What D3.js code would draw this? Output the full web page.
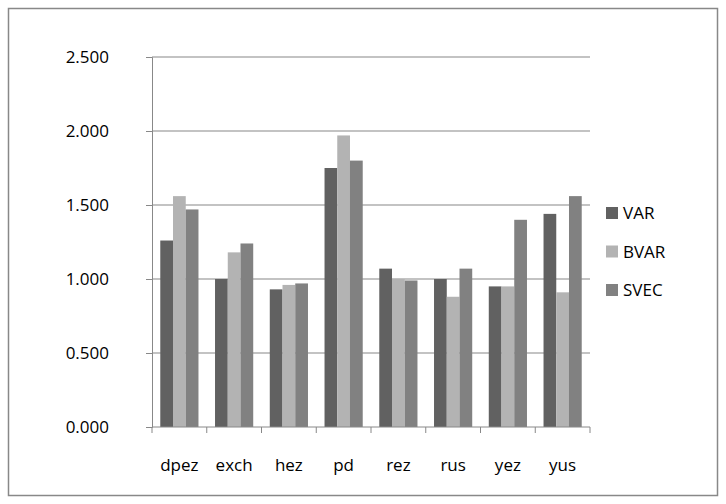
<!DOCTYPE html>
<html lang="en">
<head>
<meta charset="UTF-8">
<script src="https://d3js.org/d3.v7.min.js"></script>
<style>
  body { margin: 0; background: #fff; }
  text { font-family: "Open Sans", "Liberation Sans", sans-serif; font-size: 17px; fill: #000; }
</style>
</head>
<body>
<script>
var categories = ["dpez", "exch", "hez", "pd", "rez", "rus", "yez", "yus"];
var seriesNames = ["VAR", "BVAR", "SVEC"];
var varValues  = [1.26, 1.00, 0.93, 1.75, 1.07, 1.00, 0.95, 1.44];
var bvarValues = [1.56, 1.18, 0.96, 1.97, 1.00, 0.88, 0.95, 0.91];
var svecValues = [1.47, 1.24, 0.97, 1.80, 0.99, 1.07, 1.40, 1.56];
var yTicks = [0, 0.5, 1, 1.5, 2, 2.5];
var colors = ["#616161", "#b3b3b3", "#818181"];

var series = [varValues, bvarValues, svecValues];

var svg = d3.select("body").append("svg").attr("width", 726).attr("height", 504);
svg.append("rect").attr("x", 8.5).attr("y", 8.5).attr("width", 709).attr("height", 487)
   .attr("fill", "#fff").attr("stroke", "#888").attr("stroke-width", 1.5);

var plotLeft = 152, plotRight = 590, plotTop = 57, plotBottom = 427;
var x = d3.scaleBand().domain(categories).range([plotLeft, plotRight]);
var y = d3.scaleLinear().domain([0, 2.5]).range([plotBottom, plotTop]);
var xs = d3.scaleBand().domain(seriesNames).range([0, x.bandwidth()]).paddingInner(0).paddingOuter(0.65);

// gridlines
svg.append("g").selectAll("line").data(yTicks.slice(1)).enter().append("line")
   .attr("x1", plotLeft).attr("x2", plotRight).attr("y1", d => y(d)).attr("y2", d => y(d))
   .attr("stroke", "#888").attr("stroke-width", 1.2);

// bars
categories.forEach(function(c, i) {
  seriesNames.forEach(function(s, j) {
    svg.append("rect")
      .attr("x", x(c) + xs(s)).attr("width", xs.bandwidth())
      .attr("y", y(series[j][i])).attr("height", plotBottom - y(series[j][i]))
      .attr("fill", colors[j]);
  });
});

// y axis
var yAxis = svg.append("g").attr("transform", "translate(" + plotLeft + ",0)")
   .call(d3.axisLeft(y).tickValues(yTicks).tickFormat(d3.format(".3f")).tickSize(6).tickPadding(37));
yAxis.selectAll("path, line").attr("stroke", "#888");
yAxis.selectAll("text").style("font-size", "17px").style("font-family", "'Open Sans', sans-serif");

// x axis
svg.append("line").attr("x1", plotLeft).attr("x2", plotRight).attr("y1", plotBottom).attr("y2", plotBottom).attr("stroke", "#888");
svg.append("g").selectAll("line").data(categories.concat(["end"])).enter().append("line")
   .attr("x1", (d, i) => plotLeft + i * x.step()).attr("x2", (d, i) => plotLeft + i * x.step())
   .attr("y1", plotBottom).attr("y2", plotBottom + 6).attr("stroke", "#888");
svg.append("g").selectAll("text").data(categories).enter().append("text")
   .attr("x", d => x(d) + x.bandwidth() / 2).attr("y", 471).attr("text-anchor", "middle").text(d => d);

// legend
var legend = svg.append("g").selectAll("g").data(seriesNames).enter().append("g")
   .attr("transform", (d, i) => "translate(606," + (213 + i * 38.5) + ")");
legend.append("rect").attr("x", 0).attr("y", -6).attr("width", 12).attr("height", 12).attr("fill", (d, i) => colors[i]);
legend.append("text").attr("x", 17).attr("y", 6).text(d => d);
</script>
</body>
</html>
